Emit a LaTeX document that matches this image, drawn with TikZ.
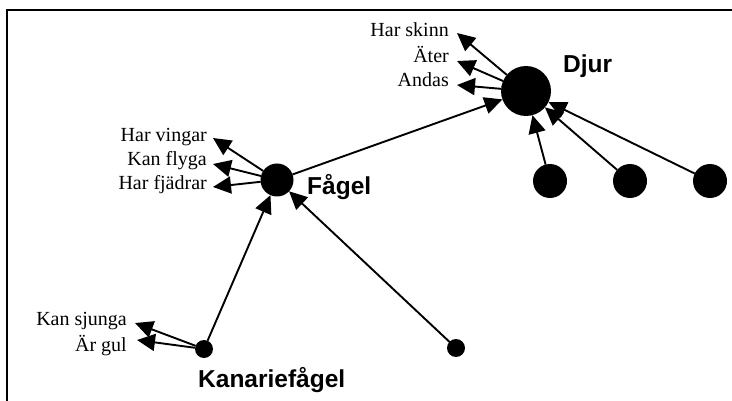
\documentclass[tikz,border=0pt]{standalone}
\usepackage{fontspec}
\setmainfont{Liberation Serif}
\newfontfamily\namefont{Liberation Sans}
\usetikzlibrary{arrows.meta}
\begin{document}
\begin{tikzpicture}[x=1pt,y=-1pt,
  dot/.style={circle,fill=black,inner sep=0pt,outer sep=0pt,minimum size=#1},
  attr/.style={anchor=base east,inner sep=0pt,font=\fontsize{20}{24}\selectfont},
  cname/.style={anchor=base west,inner sep=0pt,font=\namefont\bfseries\fontsize{24.5}{28}\selectfont},
  arr/.style={line width=1.9pt,-{Triangle[length=18pt,width=17pt]}},
  rim/.style={line width=1.8pt}]
\useasboundingbox (0,0) rectangle (732,401);

% open frame: top and left edges
\coordinate (fl) at (7,401);
\coordinate (fc) at (7,10);
\coordinate (fr) at (732,10);
\draw[rim] (fl) -- (fc) -- (fr);

% concept nodes
\node[dot=50pt] (djur) at (526,91) {};
\node[dot=33pt] (fagel) at (277,180) {};
\node[dot=18pt] (kanar) at (204,349) {};
\node[dot=18pt] (s1) at (456,348) {};
\node[dot=34pt] (b1) at (550,181) {};
\node[dot=34pt] (b2) at (630,181) {};
\node[dot=34pt] (b3) at (710,181) {};

% concept names
\node[cname] (ldjur) at (563,73) {Djur};
\node[cname] (lfagel) at (307,195) {Fågel};
\node[cname] (lkanar) at (198,387) {Kanariefågel};

% properties
\node[attr] (hs) at (449,37) {Har skinn};
\node[attr] (at) at (449,63) {Äter};
\node[attr] (an) at (449,87) {Andas};
\node[attr] (hv) at (207,142) {Har vingar};
\node[attr] (kf) at (207,166) {Kan flyga};
\node[attr] (hf) at (207,190) {Har fjädrar};
\node[attr] (ks) at (127,326) {Kan sjunga};
\node[attr] (ag) at (127,352) {Är gul};

% arrow ends beside the properties
\coordinate (ths) at (457,33);
\coordinate (tat) at (457,61);
\coordinate (tan) at (457,85);
\coordinate (thv) at (213,138);
\coordinate (tkf) at (213,164);
\coordinate (thf) at (213,187);
\coordinate (tks) at (135,323);
\coordinate (tag) at (137,340);

% is-a links
\draw[arr] (fagel) -- (djur);
\draw[arr] (kanar) -- (fagel);
\draw[arr] (s1) -- (fagel);
\draw[arr] (b1) -- (djur);
\draw[arr] (b2) -- (djur);
\draw[arr] (b3) -- (djur);

% property links
\draw[arr] (djur) -- (ths);
\draw[arr] (djur) -- (tat);
\draw[arr] (djur) -- (tan);
\draw[arr] (fagel) -- (thv);
\draw[arr] (fagel) -- (tkf);
\draw[arr] (fagel) -- (thf);
\draw[arr] (kanar) -- (tks);
\draw[arr] (kanar) -- (tag);
\end{tikzpicture}
\end{document}
